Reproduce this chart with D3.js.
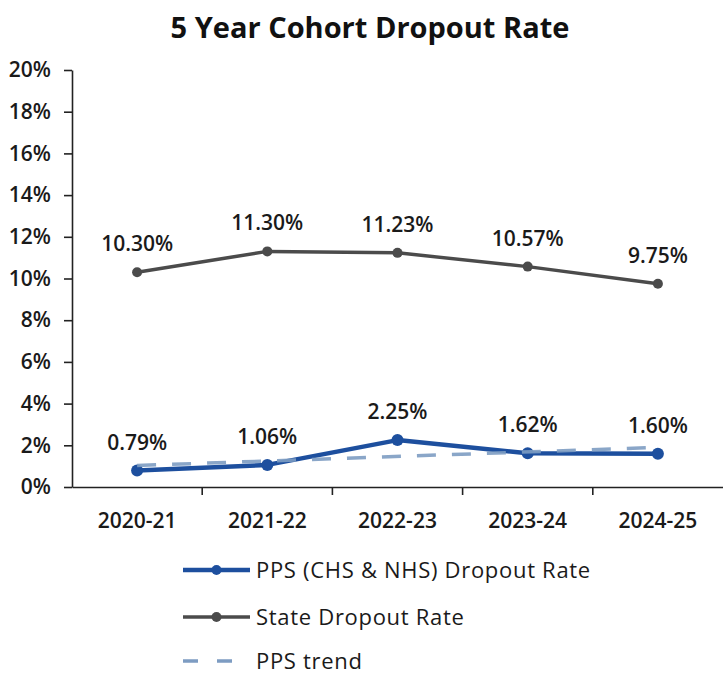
<!DOCTYPE html>
<html>
<head>
<meta charset="utf-8">
<script src="https://cdn.jsdelivr.net/npm/d3@7"></script>
<style>
  html, body { margin: 0; padding: 0; background: #fff; }
  svg { display: block; font-family: "Open Sans", "DejaVu Sans", sans-serif; }
</style>
</head>
<body>
<svg id="chart" width="723" height="675"></svg>
<script>
// School years on the category axis
const years = ["2020-21", "2021-22", "2022-23", "2023-24", "2024-25"];
// District (CHS & NHS) five-year cohort dropout rate, percent
const ppsRates = [0.79, 1.06, 2.25, 1.62, 1.60];
// Statewide five-year cohort dropout rate, percent
const stateRates = [10.30, 11.30, 11.23, 10.57, 9.75];
// Linear trend of the district rate, first and last year, percent
const trendYears = ["2020-21", "2024-25"];
const trendRates = [1.03, 1.90];
// Value axis ticks, percent
const yTicks = [0, 2, 4, 6, 8, 10, 12, 14, 16, 18, 20];

const legendLabels = ["PPS (CHS & NHS) Dropout Rate", "State Dropout Rate", "PPS trend"];

const svg = d3.select("#chart");
const plot = { left: 72, right: 723, top: 70, bottom: 487 };

const blue = "#1d4f9e";
const gray = "#4b4b4b";
const trendColor = "#7d9cc2";

const x = d3.scaleBand().domain(years).range([plot.left, plot.right]).paddingInner(0).paddingOuter(0);
const y = d3.scaleLinear().domain([0, 20]).range([plot.bottom, plot.top]);
const cx = d => x(d) + x.bandwidth() / 2;

// Title
svg.append("text")
  .attr("x", 370).attr("y", 38)
  .attr("text-anchor", "middle")
  .attr("font-size", 29).attr("font-weight", 700)
  .attr("fill", "#111")
  .text("5 Year Cohort Dropout Rate");

// Value axis
const yAxis = d3.axisLeft(y)
  .tickValues(yTicks)
  .tickFormat(d => d + "%")
  .tickSize(8).tickSizeOuter(0).tickPadding(13);
const gy = svg.append("g").attr("transform", `translate(${plot.left},0)`).call(yAxis);
gy.select(".domain").attr("stroke", "#222").attr("stroke-width", 1.6);
gy.selectAll(".tick line").attr("stroke", "#222").attr("stroke-width", 1.6);
gy.selectAll(".tick text")
  .attr("font-size", 21).attr("font-weight", 600)
  .attr("fill", "#1a1a1a").attr("font-family", "'Open Sans', sans-serif");

// Category axis
const xAxis = d3.axisBottom(x).tickSize(0).tickSizeOuter(0).tickPadding(26);
const gx = svg.append("g").attr("transform", `translate(0,${plot.bottom})`).call(xAxis);
gx.select(".domain").attr("stroke", "#222").attr("stroke-width", 1.6);
gx.selectAll(".tick text")
  .attr("font-size", 21).attr("font-weight", 600)
  .attr("fill", "#1a1a1a").attr("font-family", "'Open Sans', sans-serif");
// tick marks between categories
gx.selectAll("line.sep")
  .data(years.slice(1))
  .join("line")
  .attr("class", "sep")
  .attr("x1", d => x(d)).attr("x2", d => x(d))
  .attr("y1", 0).attr("y2", 8)
  .attr("stroke", "#222").attr("stroke-width", 1.6);

const line = d3.line().x(d => cx(d.year)).y(d => y(d.value));

const stateData = years.map((yr, i) => ({ year: yr, value: stateRates[i] }));
const ppsData = years.map((yr, i) => ({ year: yr, value: ppsRates[i] }));
const trendData = trendYears.map((yr, i) => ({ year: yr, value: trendRates[i] }));

// State series
svg.append("path").datum(stateData)
  .attr("d", line).attr("fill", "none")
  .attr("stroke", gray).attr("stroke-width", 3.5).attr("stroke-linejoin", "round");
svg.selectAll("circle.state").data(stateData).join("circle")
  .attr("class", "state")
  .attr("cx", d => cx(d.year)).attr("cy", d => y(d.value)).attr("r", 5)
  .attr("fill", gray);

// District series
svg.append("path").datum(ppsData)
  .attr("d", line).attr("fill", "none")
  .attr("stroke", blue).attr("stroke-width", 4.5).attr("stroke-linejoin", "round");
svg.selectAll("circle.pps").data(ppsData).join("circle")
  .attr("class", "pps")
  .attr("cx", d => cx(d.year)).attr("cy", d => y(d.value)).attr("r", 6)
  .attr("fill", blue);

// Trend line
svg.append("path").datum(trendData)
  .attr("d", line).attr("fill", "none")
  .attr("stroke", trendColor).attr("stroke-width", 3.5)
  .attr("stroke-dasharray", "19,16").attr("opacity", 0.9);

// Data labels
const labelFmt = v => v.toFixed(2) + "%";
function labels(data, cls) {
  svg.selectAll("text." + cls).data(data).join("text")
    .attr("class", cls)
    .attr("x", d => cx(d.year))
    .attr("y", d => y(d.value) - 21)
    .attr("text-anchor", "middle")
    .attr("font-size", 21).attr("font-weight", 600)
    .attr("fill", "#1a1a1a")
    .text(d => labelFmt(d.value));
}
labels(stateData, "lab-state");
labels(ppsData, "lab-pps");

// Legend
const legend = svg.append("g");
const rows = [570, 617, 661];
const lx0 = 183, lx1 = 250;
// district
legend.append("line").attr("x1", lx0).attr("x2", lx1).attr("y1", rows[0]).attr("y2", rows[0])
  .attr("stroke", blue).attr("stroke-width", 4.5);
legend.append("circle").attr("cx", (lx0 + lx1) / 2).attr("cy", rows[0]).attr("r", 5).attr("fill", blue);
// state
legend.append("line").attr("x1", lx0).attr("x2", lx1).attr("y1", rows[1]).attr("y2", rows[1])
  .attr("stroke", gray).attr("stroke-width", 3.5);
legend.append("circle").attr("cx", (lx0 + lx1) / 2).attr("cy", rows[1]).attr("r", 5).attr("fill", gray);
// trend
legend.append("line").attr("x1", lx0).attr("x2", 240).attr("y1", rows[2]).attr("y2", rows[2])
  .attr("stroke", trendColor).attr("stroke-width", 3.5).attr("stroke-dasharray", "15,19");
legend.selectAll("text.leg").data(legendLabels).join("text")
  .attr("class", "leg")
  .attr("x", 256).attr("y", (d, i) => rows[i])
  .attr("dy", "0.35em")
  .attr("font-size", 22).attr("font-weight", 500)
  .attr("letter-spacing", 0.7)
  .attr("fill", "#1a1a1a")
  .text(d => d);
</script>
</body>
</html>
